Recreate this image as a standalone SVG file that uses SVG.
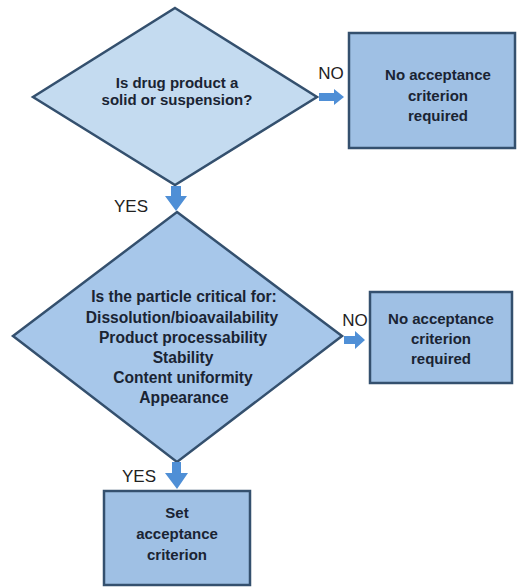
<svg xmlns="http://www.w3.org/2000/svg" width="517" height="588" viewBox="0 0 517 588">
<style>
.shape{stroke:#34506e;stroke-width:2.5}
.d1{fill:#c4dbf0}
.d2{fill:#a7c7ea}
.box{fill:#9fc0e4}
.t{font-family:"Liberation Sans",Arial,sans-serif;font-weight:bold;font-size:15px;fill:#1a2433;text-anchor:middle}
.t2{font-size:15.6px}
.lbl{font-family:"Liberation Sans",Arial,sans-serif;font-size:17px;fill:#222;text-anchor:middle}
.arr{fill:#4f8fd6}
</style>
<rect width="517" height="588" fill="#ffffff"/>
<g id="decision1">
<polygon class="shape d1" points="175,8 317,97 175,185 33,97"/>
<text class="t" x="177" y="88">Is drug product a</text>
<text class="t" x="177" y="105">solid or suspension?</text>
</g>
<g id="box1">
<rect class="shape box" x="349" y="33" width="166" height="115"/>
<text class="t" x="438" y="80">No acceptance</text>
<text class="t" x="438" y="101">criterion</text>
<text class="t" x="438" y="121">required</text>
</g>
<g id="decision2">
<polygon class="shape d2" points="177,212 342,336 177,462 13,336"/>
<text class="t t2" x="184" y="302">Is the particle critical for:</text>
<text class="t t2" x="182" y="323">Dissolution/bioavailability</text>
<text class="t t2" x="183" y="343">Product processability</text>
<text class="t t2" x="183" y="363">Stability</text>
<text class="t t2" x="183" y="383">Content uniformity</text>
<text class="t t2" x="184" y="403">Appearance</text>
</g>
<g id="box2">
<rect class="shape box" x="370" y="292" width="142" height="91"/>
<text class="t" x="441" y="324">No acceptance</text>
<text class="t" x="441" y="344">criterion</text>
<text class="t" x="441" y="364">required</text>
</g>
<g id="box3">
<rect class="shape box" x="104" y="491" width="146" height="94"/>
<text class="t" x="177" y="518">Set</text>
<text class="t" x="177" y="539">acceptance</text>
<text class="t" x="177" y="560">criterion</text>
</g>
<g id="connectors">
<polygon class="arr" points="319,93 334,93 334,89 344,97 334,105 334,101 319,101"/>
<polygon class="arr" points="344,336 355,336 355,331 365,340 355,349 355,344 344,344"/>
<polygon class="arr" points="171,186 181,186 181,196 187,196 176,211 165,196 171,196"/>
<polygon class="arr" points="172,462 181,462 181,473 188,473 177,489 165,473 172,473"/>
<text class="lbl" x="331" y="79">NO</text>
<text class="lbl" x="355" y="326">NO</text>
<text class="lbl" x="131" y="212">YES</text>
<text class="lbl" x="139" y="482">YES</text>
</g>
</svg>
